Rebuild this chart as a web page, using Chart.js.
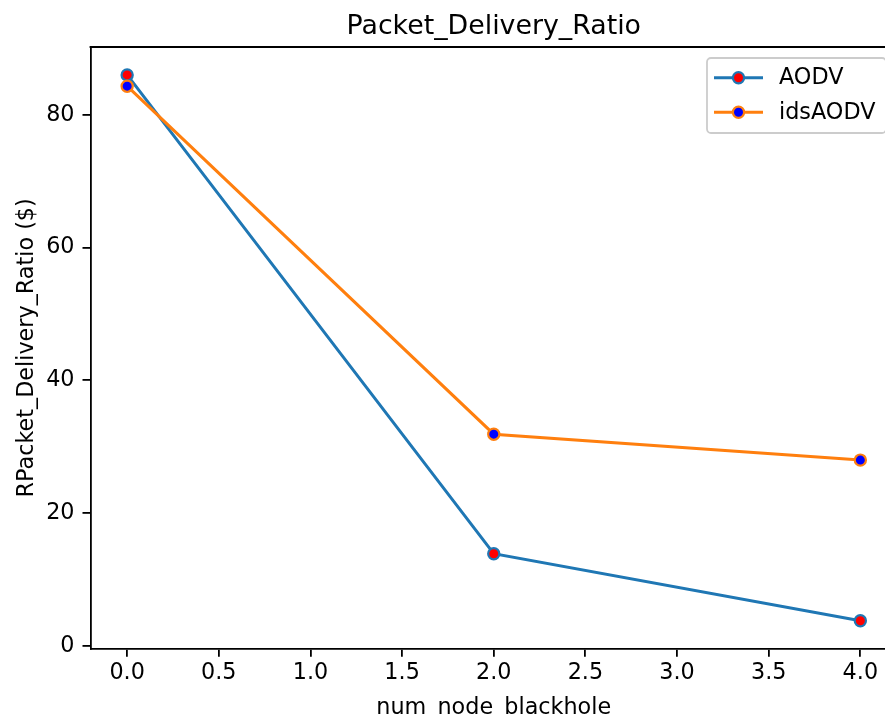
<!DOCTYPE html>
<html>
<head>
<meta charset="utf-8">
<title>Packet_Delivery_Ratio</title>
<script src="https://cdn.jsdelivr.net/npm/chart.js@4/dist/chart.umd.min.js"></script>
<style>
    html, body { margin: 0; padding: 0; background: #fff; overflow: hidden; }
    #wrap { width: 905px; height: 730px; }
</style>
</head>
<body>
<div id="wrap"><canvas id="pdrChart" width="905" height="730"></canvas></div>
<script>
// data
var nodes = [0, 2, 4];
var aodvValues = [86.0, 13.9, 3.8];
var idsAodvValues = [84.3, 31.9, 28.0];
var seriesNames = ['AODV', 'idsAODV'];
var xTicks = [0, 0.5, 1, 1.5, 2, 2.5, 3, 3.5, 4];
var yTicks = [0, 20, 40, 60, 80];

var titleText = 'Packet_Delivery_Ratio';
var xTitle = 'num_node_blackhole';
var yTitle = 'RPacket_Delivery_Ratio ($)';

document.addEventListener('DOMContentLoaded', function () {
    var ctx = document.getElementById('pdrChart').getContext('2d');
    var fontFamily = "'DejaVu Sans', sans-serif";
    var fs = 22.3;

    Chart.defaults.font.family = fontFamily;
    Chart.defaults.color = '#000';

    function toPoints(values) {
        return values.map(function (v, i) { return { x: nodes[i], y: v }; });
    }

    // title centred over the axes, like matplotlib
    var titlePlugin = {
        id: 'axesTitle',
        afterDraw: function (chart) {
            var c = chart.ctx, a = chart.chartArea;
            c.save();
            c.font = '26.8px ' + fontFamily;
            c.fillStyle = '#000';
            c.textAlign = 'center';
            c.textBaseline = 'alphabetic';
            c.fillText(titleText, (a.left + a.right) / 2, a.top - 13.4);
            c.restore();
        }
    };

    // top spine (right one falls outside the picture)
    var framePlugin = {
        id: 'frame',
        afterDraw: function (chart) {
            var c = chart.ctx, a = chart.chartArea;
            c.save();
            c.strokeStyle = '#000';
            c.lineWidth = 1.8;
            c.beginPath();
            c.moveTo(a.left - 0.9, a.top);
            c.lineTo(a.right, a.top);
            c.stroke();
            c.restore();
        }
    };

    // legend with line + marker, upper right
    var legendPlugin = {
        id: 'mplLegend',
        afterDraw: function (chart) {
            var c = chart.ctx, a = chart.chartArea;
            var w = 179, h = 75;
            var bx = a.right - 11 - w, by = a.top + 11;
            c.save();
            c.beginPath();
            c.roundRect(bx, by, w, h, 4);
            c.fillStyle = 'rgba(255,255,255,0.8)';
            c.fill();
            c.lineWidth = 1.8;
            c.strokeStyle = '#cccccc';
            c.stroke();
            chart.data.datasets.forEach(function (ds, i) {
                var y = by + 19.7 + i * 34.5;
                c.beginPath();
                c.moveTo(bx + 7, y);
                c.lineTo(bx + 56, y);
                c.strokeStyle = ds.borderColor;
                c.lineWidth = 3;
                c.stroke();
                c.beginPath();
                c.arc(bx + 31.5, y, 5.6, 0, Math.PI * 2);
                c.fillStyle = ds.pointBackgroundColor;
                c.fill();
                c.lineWidth = 2.2;
                c.strokeStyle = ds.pointBorderColor;
                c.stroke();
                c.fillStyle = '#000';
                c.font = fs + 'px ' + fontFamily;
                c.textAlign = 'left';
                c.textBaseline = 'middle';
                c.fillText(ds.label, bx + 72, y + 1);
            });
            c.restore();
        }
    };

    var pdrChart = new Chart(ctx, {
        type: 'line',
        data: {
            datasets: [{
                label: seriesNames[0],
                data: toPoints(aodvValues),
                borderColor: '#1f77b4',
                borderWidth: 3,
                pointBackgroundColor: '#ff0000',
                pointBorderColor: '#1f77b4',
                pointRadius: 5.6,
                pointBorderWidth: 2.2,
                tension: 0,
                order: 1
            }, {
                label: seriesNames[1],
                data: toPoints(idsAodvValues),
                borderColor: '#ff7f0e',
                borderWidth: 3,
                pointBackgroundColor: '#0000ff',
                pointBorderColor: '#ff7f0e',
                pointRadius: 5.6,
                pointBorderWidth: 2.2,
                tension: 0,
                order: 0
            }]
        },
        options: {
            responsive: false,
            animation: false,
            devicePixelRatio: 1,
            layout: { padding: { top: 47, right: 8, bottom: 0, left: 0 } },
            plugins: {
                legend: { display: false },
                title: { display: false },
                tooltip: { enabled: false }
            },
            scales: {
                x: {
                    type: 'linear',
                    min: -0.2,
                    max: 4.2,
                    afterFit: function (scale) { scale.height = 81.3; },
                    afterBuildTicks: function (scale) {
                        scale.ticks = xTicks.map(function (v) { return { value: v }; });
                    },
                    ticks: {
                        padding: 3.4,
                        font: { size: fs },
                        callback: function (v) { return Number(v).toFixed(1); }
                    },
                    grid: { display: true, drawOnChartArea: false, tickLength: 8, lineWidth: 1.8, color: '#000' },
                    border: { display: true, color: '#000', width: 1.8 },
                    title: { display: true, text: xTitle, font: { size: fs }, padding: { top: 0, bottom: 8.5 } }
                },
                y: {
                    min: -0.4,
                    max: 90.2,
                    afterFit: function (scale) { scale.width = 90.5; },
                    afterBuildTicks: function (scale) {
                        scale.ticks = yTicks.map(function (v) { return { value: v }; });
                    },
                    ticks: {
                        padding: 8,
                        font: { size: fs },
                        callback: function (v) { return String(v); }
                    },
                    grid: { display: true, drawOnChartArea: false, tickLength: 8, lineWidth: 1.8, color: '#000' },
                    border: { display: true, color: '#000', width: 1.8 },
                    title: { display: true, text: yTitle, font: { size: fs }, padding: { top: 14, bottom: 0 } }
                }
            }
        },
        plugins: [framePlugin, titlePlugin, legendPlugin]
    });
});
</script>
</body>
</html>
